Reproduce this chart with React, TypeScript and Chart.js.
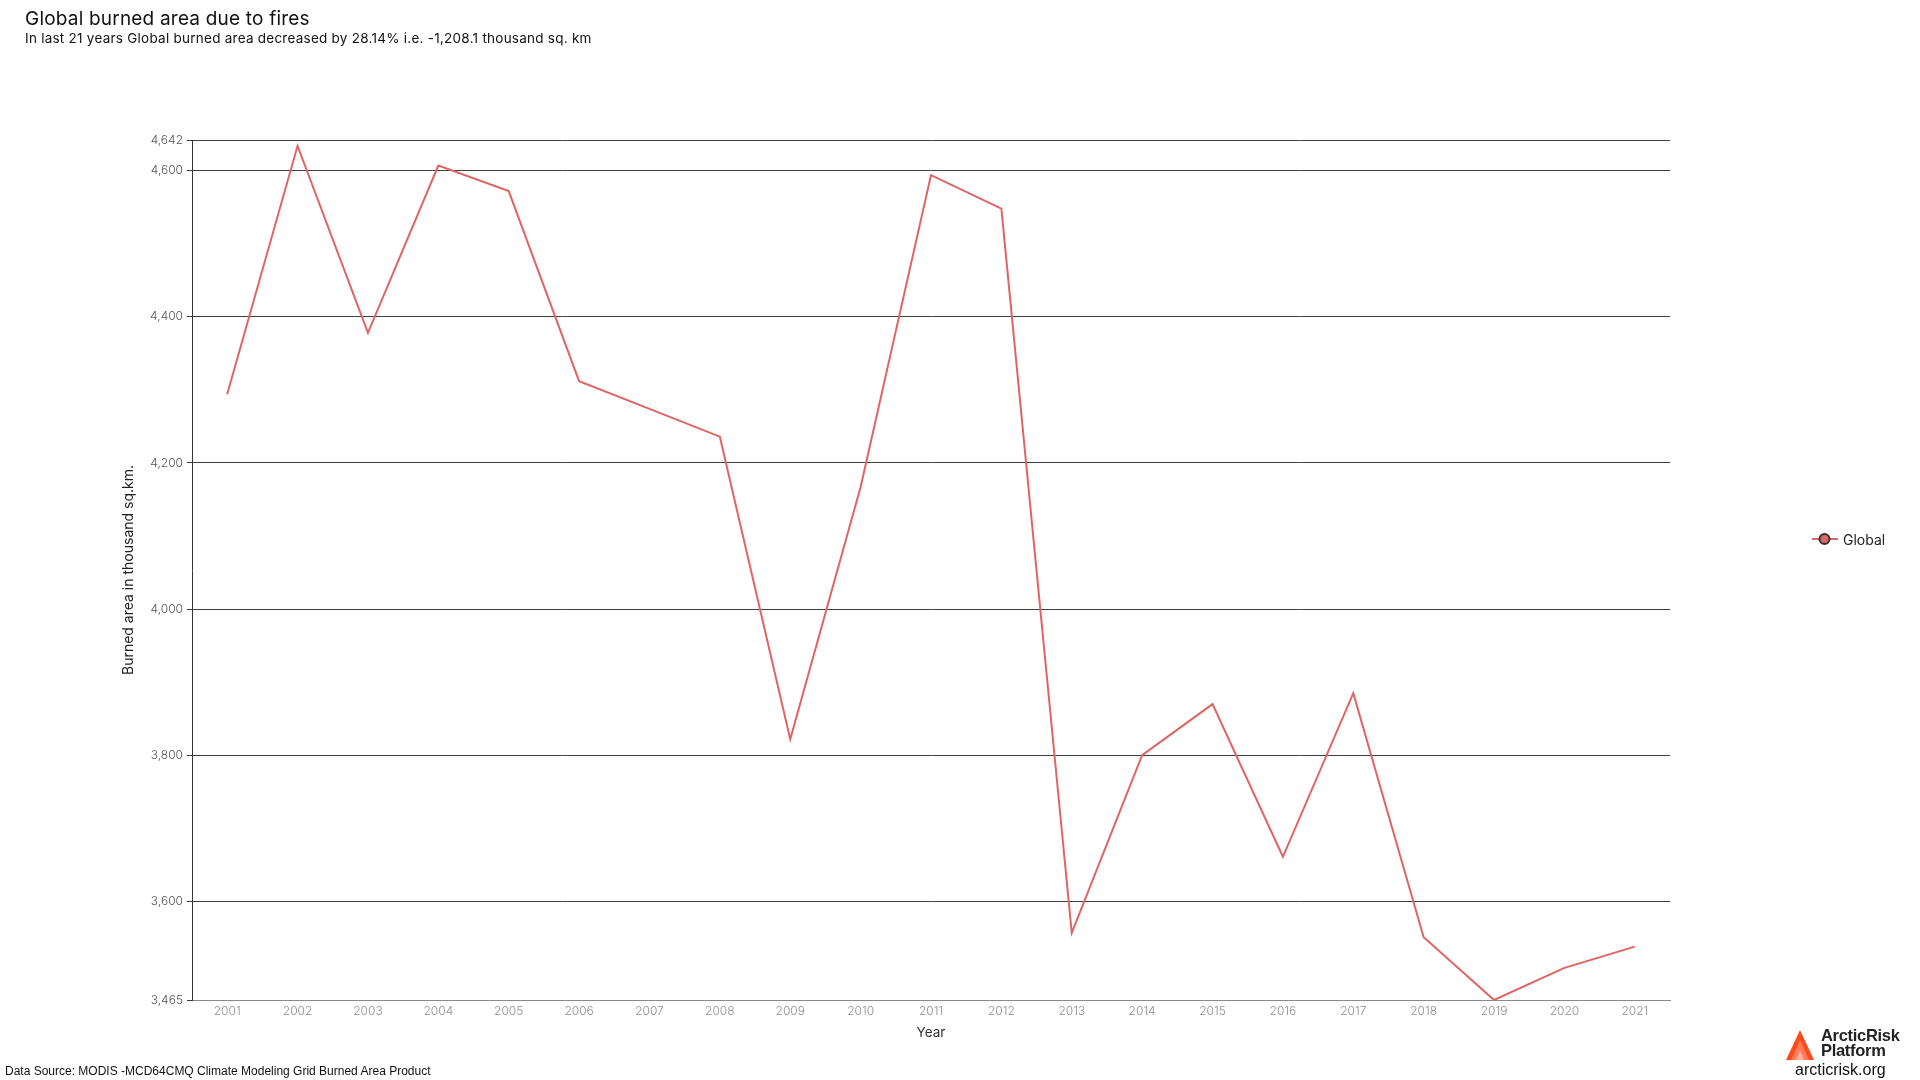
import React, { useEffect, useRef } from "react";
import { Chart, registerables } from "chart.js";

Chart.register(...registerables);

const years = [
  "2001", "2002", "2003", "2004", "2005", "2006", "2007", "2008", "2009", "2010", "2011",
  "2012", "2013", "2014", "2015", "2016", "2017", "2018", "2019", "2020", "2021",
];
const globalBurned = [
  4294, 4634, 4378, 4607, 4572, 4312, 4274, 4236, 3822, 4167, 4594,
  4548, 3557, 3800, 3870, 3661, 3885, 3551, 3465, 3509, 3538,
];
const yTicks = [3465, 3600, 3800, 4000, 4200, 4400, 4600, 4642];
const yMin = 3465;
const yMax = 4642;

const titleText = "Global burned area due to fires";
const subtitleText = "In last 21 years Global burned area decreased by 28.14% i.e. -1,208.1 thousand sq. km";
const seriesName = "Global";
const lineColor = "#e06464";
const FONT = "Inter, 'Noto Sans', sans-serif";

export default function App() {
  const canvasRef = useRef<HTMLCanvasElement | null>(null);

  useEffect(() => {
    if (!canvasRef.current) return;
    const chart = new Chart(canvasRef.current, {
      type: "line",
      data: {
        labels: years,
        datasets: [
          {
            label: seriesName,
            data: globalBurned,
            borderColor: lineColor,
            backgroundColor: lineColor,
            borderWidth: 2,
            pointRadius: 0,
            tension: 0,
          },
        ],
      },
      options: {
        animation: false,
        responsive: false,
        devicePixelRatio: 1,
        layout: { padding: { left: 116, right: 250, top: 140, bottom: 36 } },
        plugins: {
          legend: { display: false },
          title: { display: false },
          tooltip: { enabled: false },
        },
        scales: {
          x: {
            type: "category",
            offset: true,
            grid: { display: false, drawTicks: false },
            border: { display: true, color: "#8a8a8a", width: 1 },
            ticks: {
              padding: 4,
              color: "#8f8f8f",
              font: { family: FONT, size: 12, weight: 300 },
              maxRotation: 0,
              autoSkip: false,
            },
            title: {
              display: true,
              text: "Year",
              color: "#333",
              font: { family: FONT, size: 13.5 },
              padding: { top: 4, bottom: 3 },
            },
            afterFit: (scale: any) => {
              scale.height = 44;
            },
          },
          y: {
            type: "linear",
            min: yMin,
            max: yMax,
            afterBuildTicks: (scale: any) => {
              scale.ticks = yTicks.map((v) => ({ value: v }));
            },
            grid: {
              color: "#3f3f3f",
              lineWidth: 1,
              drawTicks: true,
              tickLength: 5,
            },
            border: { display: true, color: "#333", width: 1 },
            ticks: {
              padding: 4,
              color: "#555",
              font: { family: FONT, size: 12, weight: 300 },
              callback: (v: any) => Number(v).toLocaleString("en-US"),
            },
            title: {
              display: true,
              text: "Burned area in thousand sq.km.",
              color: "#222",
              font: { family: FONT, size: 14 },
              padding: { top: 4, bottom: 4 },
            },
            afterFit: (scale: any) => {
              scale.width = 76;
            },
          },
        },
      },
    });
    return () => chart.destroy();
  }, []);

  return (
    <div style={{ position: "absolute", left: 0, top: 0, width: 1920, height: 1080, background: "#fff", overflow: "hidden" }}>
      <canvas ref={canvasRef} width={1920} height={1080} style={{ position: "absolute", left: 0, top: 0, width: 1920, height: 1080 }} />
      <div style={{ position: "absolute", left: 25, top: 7, fontFamily: FONT, fontSize: 19, letterSpacing: 0.2, color: "#111", whiteSpace: "nowrap" }}>
        {titleText}
      </div>
      <div style={{ position: "absolute", left: 25, top: 30, fontFamily: FONT, fontSize: 13.5, letterSpacing: 0.25, color: "#111", whiteSpace: "nowrap" }}>
        {subtitleText}
      </div>
      <div style={{ position: "absolute", left: 1812, top: 530, display: "flex", alignItems: "center", fontFamily: FONT, fontSize: 14, color: "#222" }}>
        <svg width={26} height={18} style={{ marginRight: 5 }}>
          <line x1={0} y1={9} x2={26} y2={9} stroke={lineColor} strokeWidth={2} />
          <circle cx={12.5} cy={9} r={5} fill={lineColor} stroke="#333" strokeWidth={2} />
        </svg>
        <span>{seriesName}</span>
      </div>
      <div style={{ position: "absolute", left: 5, top: 1064, fontFamily: "'Liberation Sans', Arial, sans-serif", fontSize: 12, color: "#111", whiteSpace: "nowrap" }}>
        Data Source: MODIS -MCD64CMQ Climate Modeling Grid Burned Area Product
      </div>
      <svg width={30} height={32} style={{ position: "absolute", left: 1785, top: 1029 }}>
        <polygon points="1,31 15,1 29,31" fill="#ff4a1c" />
        <polygon points="6,31 15,11 24,31" fill="#ff7a55" />
        <polygon points="11,31 15,21 19,31" fill="#ffb39a" />
      </svg>
      <div style={{ position: "absolute", left: 1821, top: 1028, fontFamily: "'Liberation Sans', Arial, sans-serif", fontWeight: 700, fontSize: 16.5, lineHeight: "15px", color: "#222", letterSpacing: -0.3 }}>
        <div>ArcticRisk</div>
        <div>Platform</div>
      </div>
      <div style={{ position: "absolute", left: 1795, top: 1061, fontFamily: "'Liberation Sans', Arial, sans-serif", fontSize: 16, color: "#111", whiteSpace: "nowrap" }}>
        arcticrisk.org
      </div>
    </div>
  );
}
